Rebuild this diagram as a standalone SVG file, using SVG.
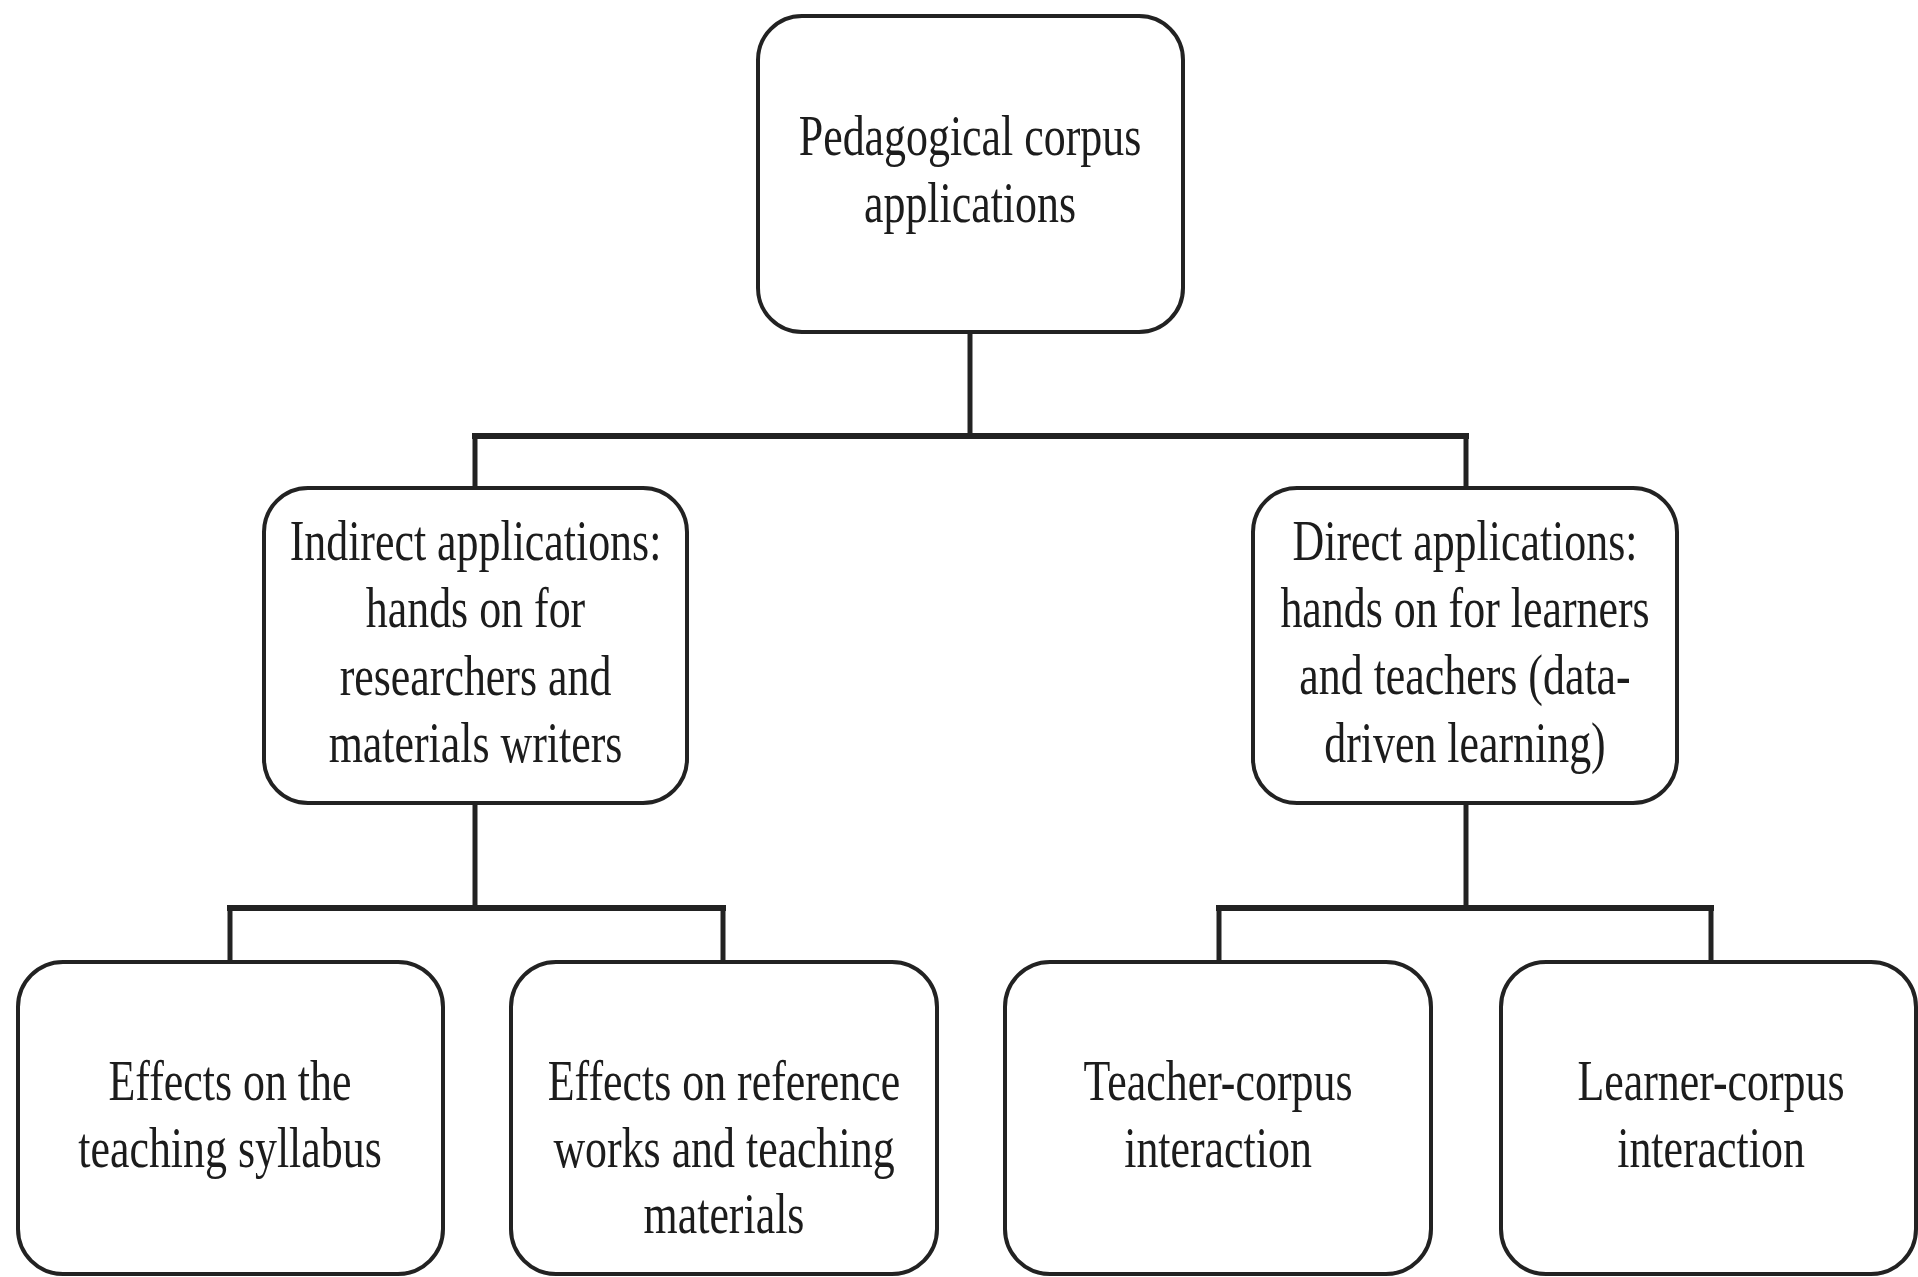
<svg xmlns="http://www.w3.org/2000/svg" width="1918" height="1277" viewBox="0 0 1918 1277">
<style>
.box{fill:#fff;stroke:#222;stroke-width:4}
.lbl{font-family:"Liberation Serif","Times New Roman",serif;font-size:57px;fill:#1c1c1c;text-anchor:middle}
.conn line{stroke:#222;stroke-linecap:square}
.h{stroke-width:6}
.v{stroke-width:5}
</style>
<rect width="1918" height="1277" fill="#fff"/>
<g id="connectors" class="conn">
<line class="v" x1="970" y1="334" x2="970" y2="436"/>
<line class="h" x1="475" y1="436" x2="1466" y2="436"/>
<line class="v" x1="475" y1="436" x2="475" y2="486"/>
<line class="v" x1="1466" y1="436" x2="1466" y2="486"/>
<line class="v" x1="475" y1="805" x2="475" y2="908"/>
<line class="h" x1="230" y1="908" x2="723" y2="908"/>
<line class="v" x1="230" y1="908" x2="230" y2="960"/>
<line class="v" x1="723" y1="908" x2="723" y2="960"/>
<line class="v" x1="1466" y1="805" x2="1466" y2="908"/>
<line class="h" x1="1219" y1="908" x2="1711" y2="908"/>
<line class="v" x1="1219" y1="908" x2="1219" y2="960"/>
<line class="v" x1="1711" y1="908" x2="1711" y2="960"/>
</g>
<g id="root">
<rect class="box" x="758" y="16" width="425" height="316" rx="44"/>
<text class="lbl" transform="translate(970,0) scale(0.77,1)"><tspan x="0" y="155">Pedagogical corpus</tspan><tspan x="0" y="222">applications</tspan></text>
</g>
<g id="indirect">
<rect class="box" x="264" y="488" width="423" height="315" rx="44"/>
<text class="lbl" transform="translate(475.5,0) scale(0.77,1)"><tspan x="0" y="560">Indirect applications:</tspan><tspan x="0" y="627">hands on for</tspan><tspan x="0" y="695">researchers and</tspan><tspan x="0" y="762">materials writers</tspan></text>
</g>
<g id="direct">
<rect class="box" x="1253" y="488" width="424" height="315" rx="44"/>
<text class="lbl" transform="translate(1465,0) scale(0.77,1)"><tspan x="0" y="560">Direct applications:</tspan><tspan x="0" y="627">hands on for learners</tspan><tspan x="0" y="694">and teachers (data-</tspan><tspan x="0" y="762">driven learning)</tspan></text>
</g>
<g id="syllabus">
<rect class="box" x="18" y="962" width="425" height="312" rx="45"/>
<text class="lbl" transform="translate(230,0) scale(0.77,1)"><tspan x="0" y="1100">Effects on the</tspan><tspan x="0" y="1167">teaching syllabus</tspan></text>
</g>
<g id="reference">
<rect class="box" x="511" y="962" width="426" height="312" rx="45"/>
<text class="lbl" transform="translate(724,0) scale(0.77,1)"><tspan x="0" y="1100">Effects on reference</tspan><tspan x="0" y="1167">works and teaching</tspan><tspan x="0" y="1233">materials</tspan></text>
</g>
<g id="teacher">
<rect class="box" x="1005" y="962" width="426" height="312" rx="45"/>
<text class="lbl" transform="translate(1218,0) scale(0.77,1)"><tspan x="0" y="1100">Teacher-corpus</tspan><tspan x="0" y="1167">interaction</tspan></text>
</g>
<g id="learner">
<rect class="box" x="1501" y="962" width="415" height="312" rx="45"/>
<text class="lbl" transform="translate(1711,0) scale(0.77,1)"><tspan x="0" y="1100">Learner-corpus</tspan><tspan x="0" y="1167">interaction</tspan></text>
</g>
</svg>
